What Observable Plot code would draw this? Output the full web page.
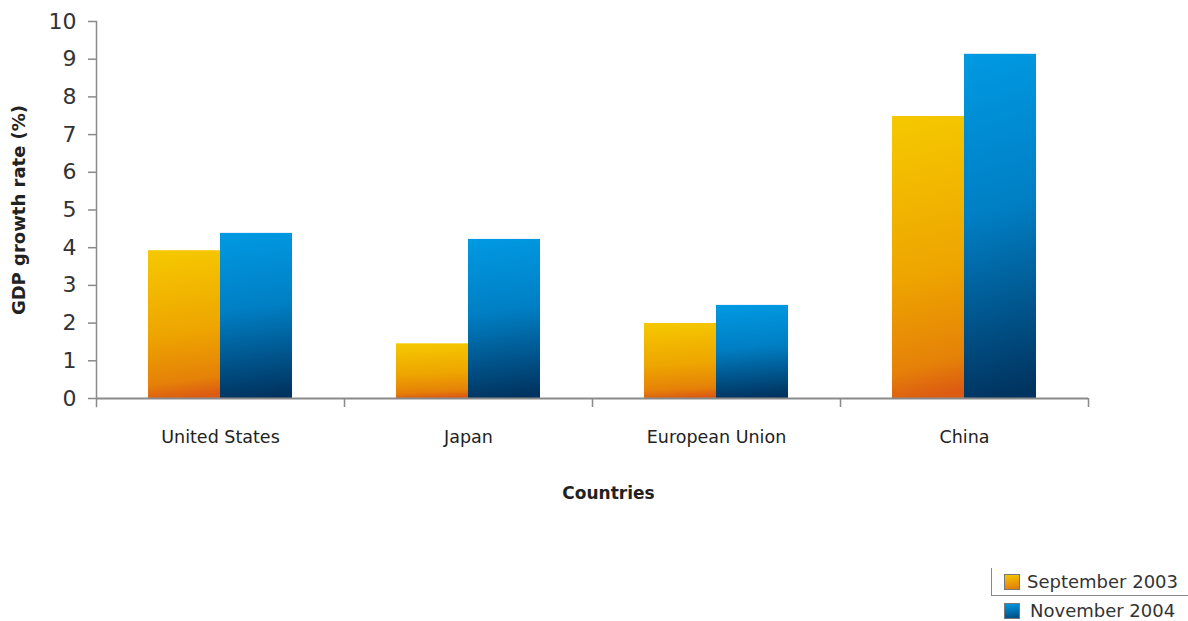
<!DOCTYPE html>
<html>
<head>
<meta charset="utf-8">
<script src="https://cdn.jsdelivr.net/npm/d3@7"></script>
<script src="https://cdn.jsdelivr.net/npm/@observablehq/plot@0.6"></script>
<style>
  html, body { margin: 0; padding: 0; background: #fff; }
  #wrap { position: relative; width: 1188px; height: 621px; font-family: "DejaVu Sans", Verdana, sans-serif; }
  #legend { position: absolute; left: 991px; top: 568px; width: 197px; height: 53px; }
  #legend .frame { position: absolute; left: 0; top: 0; width: 196px; height: 27px; border-left: 1px solid #888; border-bottom: 1px solid #888; }
  #legend .item { position: absolute; display: flex; align-items: center; font-size: 18px; color: #333; white-space: nowrap; }
  #legend .sw { width: 14px; height: 14px; border: 1px solid #777; margin-right: 7px; }
</style>
</head>
<body>
<div id="wrap"></div>
<script>
const countries = ["United States", "Japan", "European Union", "China"];
const seriesNames = ["September 2003", "November 2004"];
const sep2003 = [3.92, 1.45, 1.99, 7.48];
const nov2004 = [4.38, 4.22, 2.47, 9.13];
const yTicks = [0, 1, 2, 3, 4, 5, 6, 7, 8, 9, 10];

const gradIds = ["gradOrange", "gradBlue"];
const gradStops = [
  [["0%", "#f5c700"], ["55%", "#eea500"], ["88%", "#e58108"], ["100%", "#dc5a12"]],
  [["0%", "#0098e1"], ["45%", "#007fc4"], ["100%", "#00335f"]]
];

const data = [];
countries.forEach((c, i) => {
  data.push({country: c, series: seriesNames[0], value: sep2003[i]});
  data.push({country: c, series: seriesNames[1], value: nov2004[i]});
});

const W = 1188, H = 560, mL = 96, mR = 100, mT = 21, mB = 162;
const halfStep = (W - mL - mR) / countries.length / 2;

const defs = () => {
  const svgNS = "http://www.w3.org/2000/svg";
  const d = document.createElementNS(svgNS, "defs");
  gradIds.forEach((id, k) => {
    const g = document.createElementNS(svgNS, "linearGradient");
    g.setAttribute("id", id);
    g.setAttribute("x1", "0.47"); g.setAttribute("y1", "0");
    g.setAttribute("x2", "0.53"); g.setAttribute("y2", "1");
    gradStops[k].forEach(([o, c]) => {
      const s = document.createElementNS(svgNS, "stop");
      s.setAttribute("offset", o); s.setAttribute("stop-color", c);
      g.appendChild(s);
    });
    d.appendChild(g);
  });
  return d;
};

const axisColor = "#8a8a8a";

const chart = Plot.plot({
  width: W, height: H,
  marginLeft: mL, marginRight: mR, marginTop: mT, marginBottom: mB,
  style: {fontFamily: "'DejaVu Sans', Verdana, sans-serif", color: "#333", background: "transparent"},
  fx: {domain: countries, padding: 0, label: "Countries"},
  x: {domain: seriesNames, paddingInner: 0, paddingOuter: 0.72, axis: null},
  y: {domain: [0, 10], label: "GDP growth rate (%)"},
  marks: [
    defs,
    Plot.barY(data.filter(d => d.series === seriesNames[0]), {fx: "country", x: "series", y: "value", fill: "url(#gradOrange)"}),
    Plot.barY(data.filter(d => d.series === seriesNames[1]), {fx: "country", x: "series", y: "value", fill: "url(#gradBlue)"}),
    Plot.ruleY([0], {stroke: axisColor, strokeWidth: 2}),
    Plot.frame({anchor: "left", stroke: axisColor, strokeWidth: 1.5, insetBottom: -8, facetAnchor: "left"}),
    Plot.axisY({ticks: yTicks, tickSize: 8, tickPadding: 12, fontSize: 22, stroke: axisColor, strokeWidth: 1.5, label: null, fill: "#333"}),
    Plot.axisY({ticks: [], label: "GDP growth rate (%)", labelAnchor: "center", labelArrow: "none", labelOffset: 84, fontSize: 18, fontWeight: "bold", fill: "#222"}),
    Plot.axisFx({anchor: "bottom", tickSize: 0, tickPadding: 32, fontSize: 17.5, fill: "#222", label: null}),
    Plot.axisFx({anchor: "bottom", ticks: [], label: "Countries", labelAnchor: "center", labelArrow: "none", labelOffset: 100, fontSize: 17, fontWeight: "bold", fill: "#222", ariaLabel: "fx-title"}),
    Plot.axisFx({anchor: "bottom", text: null, tickSize: 9, dx: halfStep, stroke: axisColor, strokeWidth: 1.5, label: null})
  ]
});

// nudge the x-axis title slightly right, as in the reference
d3.select(chart).selectAll("text").filter(function() { return this.textContent === "Countries"; }).attr("dx", 16);

const wrap = document.getElementById("wrap");
wrap.appendChild(chart);

const legend = document.createElement("div");
legend.id = "legend";
legend.innerHTML = `<div class="frame"></div>
  <div class="item" style="left:13px;top:3px"><div class="sw" style="background:linear-gradient(170deg,#f6c700,#e07a10)"></div>${seriesNames[0]}</div>
  <div class="item" style="left:13px;top:32px"><div class="sw" style="background:linear-gradient(170deg,#009ae3,#004a80)"></div><span style="margin-left:3px">${seriesNames[1]}</span></div>`;
wrap.appendChild(legend);
</script>
</body>
</html>
